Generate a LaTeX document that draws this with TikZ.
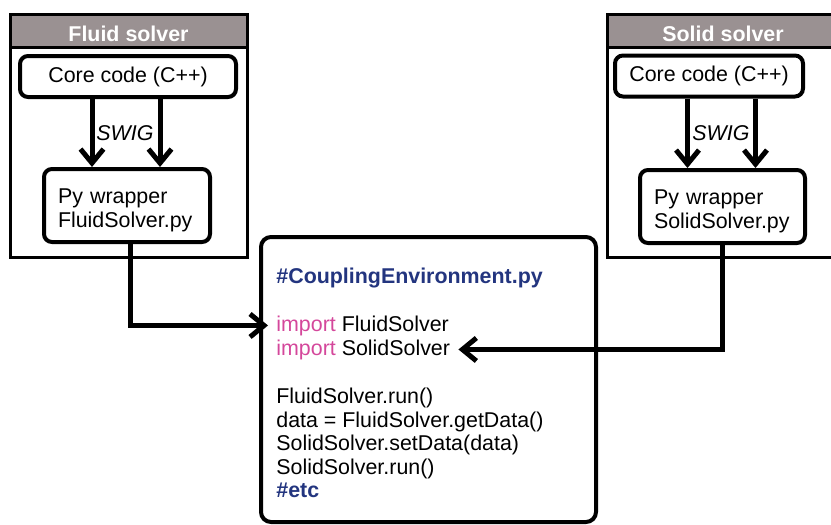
\documentclass[tikz,border=0pt]{standalone}
\usepackage{fontspec}
\setmainfont{Liberation Sans}
\usepackage{xcolor}
\usepackage{tikz}
\usetikzlibrary{positioning}
\usetikzlibrary{arrows.meta}
\definecolor{headgray}{HTML}{9A9192}
\definecolor{codeblue}{HTML}{23357F}
\definecolor{impmagenta}{HTML}{D4479B}
\newcommand{\figfont}{\fontsize{10.7pt}{12pt}\selectfont}
\tikzstyle{solverbox}=[rectangle,draw,line width=1.5pt,inner sep=0pt]
\tikzstyle{headerbox}=[rectangle,draw,line width=1.5pt,fill=headgray,text=white,font=\figfont\bfseries,text height=10.5pt,text depth=0pt,inner sep=0pt]
\tikzstyle{corebox}=[rectangle,rounded corners=4pt,draw,line width=2pt,inner sep=0pt]
\tikzstyle{pybox}=[rectangle,rounded corners=4pt,draw,line width=2pt,inner xsep=7pt,inner ysep=0pt,align=left,text height=11.8pt,text depth=14.25pt]
\tikzstyle{codebox}=[rectangle,rounded corners=5pt,draw,line width=2pt,inner sep=0pt]
\tikzstyle{codeline}=[anchor=base west,inner sep=0pt]
\tikzstyle{swig}=[font=\figfont\itshape]
\tikzstyle{edge}=[draw,line width=2.5pt,-{Straight Barb[length=7pt,width=11.5pt]}]

\begin{document}
\begin{tikzpicture}[x=0.5pt,y=-0.5pt,font=\figfont]

 \clip (0,0) rectangle (831,525);

 %Fluid solver
 \node[solverbox,minimum width=118.5pt,minimum height=121.5pt] (fluid) at (128.5,135.5) {};
 \node[headerbox,minimum width=118.5pt,minimum height=16.5pt] (fhead) at (128.5,30.5) {Fluid solver};
 \node[corebox,minimum width=108pt,minimum height=20.5pt] (fcore) at (128,76.5) {Core code (C++)};
 \node[pybox,text width=69pt,minimum height=36.5pt] (fpy) at (127,205.5) {Py wrapper\\FluidSolver.py};

 \foreach \s in {-17.5pt,16.5pt}
    \draw[edge] ([xshift=\s]fpy.north |- fcore.south) -- ([xshift=\s]fpy.north);
 \node[swig] (fswig) at (125,133) {SWIG};

 %Solid solver
 \node[solverbox,minimum width=113pt,minimum height=121.5pt] (solid) at (720,135.5) {};
 \node[headerbox,minimum width=113pt,minimum height=16.5pt] (shead) at (720,30.5) {};
 \node[font=\figfont\bfseries,text=white,text height=10.5pt,text depth=0pt,inner sep=0pt] (stitle) at (723,30.5) {Solid solver};
 \node[corebox,minimum width=94pt,minimum height=20.5pt] (score) at (709,76) {Core code (C++)};
 \node[pybox,text width=68.5pt,minimum height=36.5pt] (spy) at (722.5,206.5) {Py wrapper\\SolidSolver.py};

 \foreach \s in {-17.5pt,16.5pt}
    \draw[edge] ([xshift=\s]spy.north |- score.south) -- ([xshift=\s]spy.north);
 \node[swig] (sswig) at (721,133) {SWIG};

 %Coupling environment
 \node[codebox,minimum width=167.5pt,minimum height=142.5pt] (coupling) at (428.5,379.5) {};

 \foreach \y/\name/\label in {283/cl0/{\textcolor{codeblue}{\bfseries\#CouplingEnvironment.py}},
     331/imp1/{\textcolor{impmagenta}{import} FluidSolver},
     355/imp2/{\textcolor{impmagenta}{import} SolidSolver},
     403/cl3/{FluidSolver.run()},
     427/cl4/{data = FluidSolver.getData()},
     450.5/cl5/{SolidSolver.setData(data)},
     474/cl6/{SolidSolver.run()},
     497.5/cl7/{\textcolor{codeblue}{\bfseries\#etc}}}
        \node[codeline] (\name) at (276,\y) {\label};

 %imports
 \draw[edge,shorten >=4pt] ([xshift=1.5pt]fpy.south) |- (imp1.west);
 \draw[edge,shorten >=4pt] (spy.south) |- (imp2.east);

\end{tikzpicture}
\end{document}
